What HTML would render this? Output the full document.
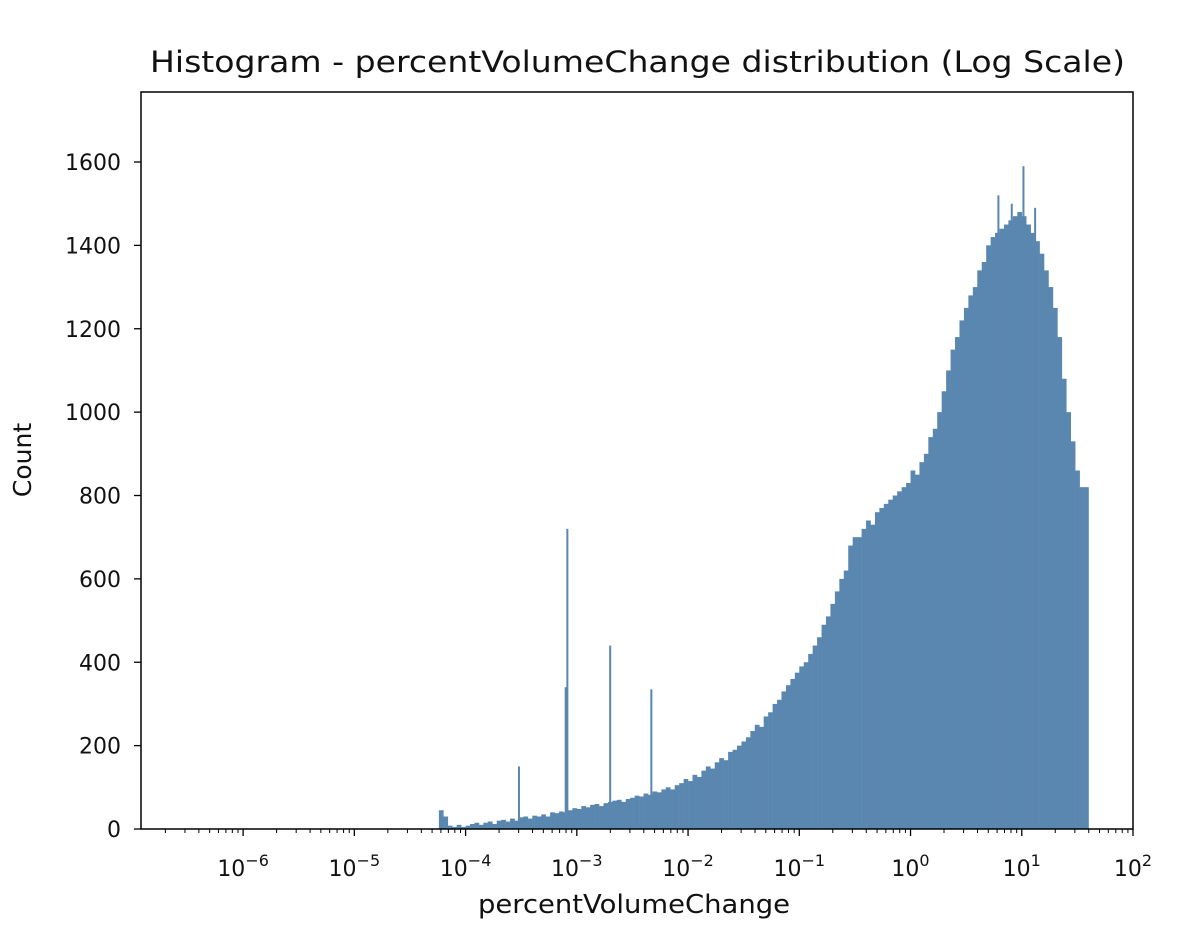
<!DOCTYPE html>
<html><head><meta charset="utf-8"><style>
body{margin:0;background:#fff;}
svg{display:block;font-family:"DejaVu Sans","Liberation Sans",sans-serif;}
</style></head><body>
<svg id="chart" width="1192" height="932" viewBox="0 0 1192 932" xmlns="http://www.w3.org/2000/svg">
<rect width="1192" height="932" fill="#fff"/>
<text x="150" y="72" font-size="29" textLength="975" lengthAdjust="spacingAndGlyphs" fill="#111">Histogram - percentVolumeChange distribution (Log Scale)</text>
<g id="bars"></g>
<g id="axes"></g>
<rect x="141" y="92" width="992" height="737" fill="none" stroke="#000" stroke-width="1.5"/>
<text x="478" y="913" font-size="26" textLength="312" lengthAdjust="spacingAndGlyphs" fill="#111">percentVolumeChange</text>
<text transform="translate(31,460) rotate(-90)" font-size="25" text-anchor="middle" fill="#111">Count</text>
</svg>
<script>
const binStart = -4.24;
const binWidth = 0.04;
const counts = [45,30,8,5,10,5,8,12,15,10,
15,18,12,20,22,18,25,20,28,30,
25,32,30,35,30,40,38,42,40,45,
50,48,55,52,58,60,55,62,65,68,
70,65,72,75,80,78,85,82,90,88,
95,100,95,105,110,120,115,130,125,140,
150,145,160,170,165,185,190,200,210,220,
235,250,245,270,280,300,310,330,345,360,
375,390,400,420,440,460,490,510,540,570,
600,620,680,700,700,720,740,730,760,770,
780,790,800,810,820,830,860,850,880,900,
940,960,1000,1050,1100,1150,1180,1220,1250,1280,
1300,1340,1360,1400,1420,1430,1440,1450,1460,1470,
1480,1470,1450,1430,1410,1380,1340,1300,1250,1180,
1080,1000,930,860,820,820];
const spikeLogs = [-3.52,-3.10,-3.085,-2.70,-2.33,0.79,0.91,1.015,1.12];
const spikeCounts = [150,340,720,440,335,1520,1500,1590,1490];
const yTicks = [0,200,400,600,800,1000,1200,1400,1600];
const xDecades = [-6,-5,-4,-3,-2,-1,0,1,2];

const NS="http://www.w3.org/2000/svg";
const X0=141,X1=1133,Y0=829,Y1=92;
const LMIN=-6.918, LMAX=2.0;
function xs(l){return X0+(l-LMIN)/(LMAX-LMIN)*(X1-X0);}
function ys(c){return Y0-c*(Y0-162)/1600;}
function mk(t,a,p){const e=document.createElementNS(NS,t);for(const k in a)e.setAttribute(k,a[k]);p.appendChild(e);return e;}
const bars=document.getElementById('bars'), axes=document.getElementById('axes');
const col="#5a87b0";
counts.forEach((c,i)=>{
  const xa=xs(binStart+i*binWidth), xb=xs(binStart+(i+1)*binWidth);
  const r=mk('rect',{x:xa,y:ys(c),width:xb-xa+0.3,height:Y0-ys(c),fill:col},bars);
  
  
});
spikeLogs.forEach((l,i)=>{
  const x=xs(l);
  const r=mk('rect',{x:x-1,y:ys(spikeCounts[i]),width:2,height:Y0-ys(spikeCounts[i]),fill:col},bars);
  
  
});
yTicks.forEach(v=>{
  const y=ys(v);
  mk('line',{x1:X0-7,x2:X0,y1:y,y2:y,stroke:'#000','stroke-width':1.3},axes);
  const t=mk('text',{x:X0-20,y:y+8,'font-size':22,'text-anchor':'end',fill:'#111'},axes);
  t.textContent=v;
  
  
});
for(let d=-7;d<=1;d++){for(let m=2;m<=9;m++){const l=d+Math.log10(m);if(l<LMIN||l>LMAX)continue;const x=xs(l);
  mk('line',{x1:x,x2:x,y1:Y0,y2:Y0+4,stroke:'#000','stroke-width':1},axes);}}
xDecades.forEach(d=>{
  const x=xs(d);
  mk('line',{x1:x,x2:x,y1:Y0,y2:Y0+7,stroke:'#000','stroke-width':1.3},axes);
  const t=mk('text',{x:x,y:876,'font-size':22,'text-anchor':'middle',fill:'#111'},axes);
  
  
  const a=document.createElementNS(NS,'tspan');a.textContent='10';t.appendChild(a);
  const b=document.createElementNS(NS,'tspan');b.setAttribute('dy','-10');b.setAttribute('font-size','16');
  b.textContent=(d<0?'\u2212'+(-d):String(d));t.appendChild(b);
});
</script>
</body></html>
